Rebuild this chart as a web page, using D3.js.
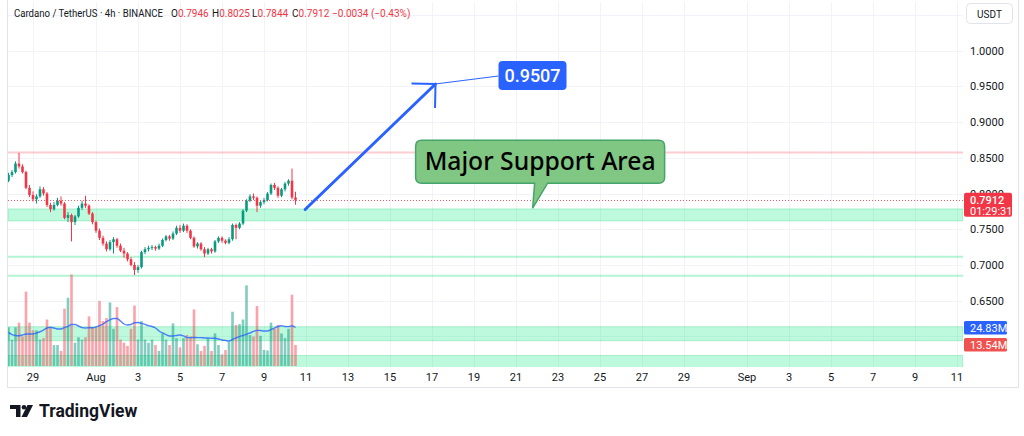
<!DOCTYPE html>
<html><head><meta charset="utf-8">
<script src="https://cdn.jsdelivr.net/npm/d3@7"></script>
<style>html,body{margin:0;padding:0;background:#fff;overflow:hidden}svg{display:block}</style>
</head><body>
<script>
// ---------- DATA ----------
const opens  = [.818,.826,.830,.842,.838,.830,.808,.798,.792,.796,.806,.800,.784,.778,.784,.790,.786,.766,.770,.760,.768,.780,.786,.783,.772,.760,.748,.738,.730,.722,.732,.736,.727,.720,.716,.708,.700,.693,.697,.718,.722,.724,.725,.723,.727,.735,.740,.737,.744,.752,.748,.755,.748,.738,.726,.730,.722,.716,.722,.719,.733,.738,.734,.731,.736,.756,.752,.758,.776,.790,.796,.794,.783,.788,.791,.800,.812,.808,.797,.806,.814,.818,.7946];
const highs  = [.829,.833,.845,.857,.841,.832,.812,.803,.799,.810,.809,.802,.787,.788,.794,.796,.788,.774,.772,.770,.783,.790,.797,.785,.774,.762,.751,.741,.733,.735,.739,.738,.730,.724,.718,.711,.704,.700,.720,.725,.727,.728,.727,.730,.737,.742,.742,.747,.755,.756,.758,.757,.750,.740,.732,.732,.725,.724,.724,.735,.740,.740,.736,.739,.758,.758,.760,.778,.792,.799,.800,.796,.790,.794,.802,.814,.815,.810,.808,.816,.820,.835,.8025];
const lows   = [.816,.823,.828,.835,.828,.806,.795,.789,.786,.794,.797,.781,.774,.776,.782,.783,.764,.760,.733,.756,.766,.777,.780,.770,.757,.745,.735,.727,.719,.720,.716,.724,.718,.710,.705,.698,.686,.689,.695,.715,.719,.721,.720,.721,.725,.733,.734,.735,.742,.745,.746,.745,.736,.724,.723,.720,.711,.714,.716,.717,.731,.731,.729,.729,.734,.736,.750,.756,.774,.788,.791,.774,.780,.785,.789,.798,.805,.794,.795,.803,.811,.792,.7844];
const closes = [.826,.830,.842,.838,.830,.808,.798,.792,.796,.806,.800,.784,.778,.784,.790,.786,.766,.770,.760,.768,.780,.786,.783,.772,.760,.748,.738,.730,.722,.732,.736,.727,.720,.716,.708,.700,.693,.697,.718,.722,.724,.725,.723,.727,.735,.740,.737,.744,.752,.748,.755,.748,.738,.726,.730,.722,.716,.722,.719,.733,.738,.734,.731,.736,.756,.752,.758,.776,.790,.796,.794,.783,.788,.791,.800,.812,.808,.797,.806,.814,.818,.7946,.7912];
// volume in millions
const volumes = [25,17,25,28,19,48,28,23,23,17,18,30,25,13.5,13.5,9.7,37,44,59,15,18.5,17,18.5,32,25,25,42,29,31,41,24,38,17,15,13,24,39,17,29,17,15,17,13.5,9.7,21,17,13.5,27.5,18,12,18,20,19,36.5,14,9.7,13,18,9.7,21,13.5,7.5,10.3,15.7,35,26.5,27,30,52,20,19,38.7,19.5,10.3,10,28,24,26.5,21,18,24,46,13.54];
const volumeMA = [21.7,20.3,19.7,19.5,20,20.6,20.6,20.6,21.3,22.1,23.2,24.5,25,24.5,23.9,23.9,24.8,25.5,26.8,26.8,25.8,24.8,24.5,24.7,24.7,25.2,26,27.1,28.6,29.7,30.6,30.6,29,27.1,26.5,26.8,27.9,28.1,27.5,26.8,26,25.5,24.5,22.6,21.3,20.3,19.4,19.4,19.7,20,19.4,18.3,18.3,18.4,18.3,18.3,18.1,18.1,17.9,17.9,17.4,16.8,16.5,16.1,17.1,18.1,19,19.7,20.5,21.3,22.3,23,22.9,22.6,22.6,23.5,24.5,25.5,26,25.5,25.4,26,24.83];
const firstCandle = Date.UTC(2025, 6, 27, 20); // Jul 27 20:00, 4h bars
const priceTicks = [0.65, 0.70, 0.75, 0.80, 0.85, 0.90, 0.95, 1.00];
const gridPrices = [0.60, 0.65, 0.70, 0.75, 0.80, 0.85, 0.90, 0.95, 1.00, 1.05];
const timeTickDates = ["2025-07-29","2025-08-01","2025-08-03","2025-08-05","2025-08-07","2025-08-09","2025-08-11","2025-08-13","2025-08-15","2025-08-17","2025-08-19","2025-08-21","2025-08-23","2025-08-25","2025-08-27","2025-08-29","2025-09-01","2025-09-03","2025-09-05","2025-09-07","2025-09-09","2025-09-11"];
const timeTickLabels = ["29","Aug","3","5","7","9","11","13","15","17","19","21","23","25","27","29","Sep","3","5","7","9","11"];
// drawn zones (price ranges) and lines
const zoneLow  = [0.7617, 0.5940, 0.5560];
const zoneHigh = [0.7785, 0.6136, 0.5733];
const supportLines = [0.7116, 0.6850];
const resistanceLine = 0.8575;
const lastPrice = 0.7912;
const arrowTimes  = ["2025-08-10T23:00Z", "2025-08-17T04:00Z"];
const arrowPrices = [0.7777, 0.9534];
const targetText = "0.9507";
const calloutText = "Major Support Area";
const calloutTipTime = "2025-08-21T19:00Z";
const calloutTipPrice = 0.7795;

// ---------- LAYOUT ----------
const W = 1024, H = 436;
const paneL = 8, paneR = 963, paneT = 2, paneB = 367;
const svg = d3.select("body").append("svg").attr("width", W).attr("height", H)
  .style("font-family", "Roboto, 'Noto Sans', Arial, sans-serif");

const x = d3.scaleUtc().domain([new Date(Date.UTC(2025,6,29)), new Date(Date.UTC(2025,8,11))]).range([33, 957]);
const y = d3.scaleLinear().domain([0.65, 1.0]).range([300.7, 50.7]);
const yv = d3.scaleLinear().domain([0, 60]).range([366, 273]);

const times = closes.map((_, i) => new Date(firstCandle + i * 4 * 3600e3));

// frame (left, bottom, right)
svg.append("path").attr("d", "M7.5,0 V387.5 H1018.5 V0").attr("fill", "none").attr("stroke", "#e0e3eb");

const defs = svg.append("defs");
defs.append("clipPath").attr("id", "pane").append("rect")
  .attr("x", paneL).attr("y", paneT).attr("width", paneR - paneL).attr("height", paneB - paneT);
const pane = svg.append("g").attr("clip-path", "url(#pane)");

// grid
pane.append("g").selectAll("line").data(gridPrices).join("line")
  .attr("x1", paneL).attr("x2", paneR)
  .attr("y1", d => Math.round(y(d)) + 0.5).attr("y2", d => Math.round(y(d)) + 0.5)
  .attr("stroke", "#f0f3fa").attr("stroke-width", 1);
pane.append("g").selectAll("line").data(timeTickDates).join("line")
  .attr("y1", paneT).attr("y2", paneB)
  .attr("x1", d => Math.round(x(new Date(d + "T00:00Z"))) + 0.5)
  .attr("x2", d => Math.round(x(new Date(d + "T00:00Z"))) + 0.5)
  .attr("stroke", "#f0f3fa").attr("stroke-width", 1);

// zones
pane.append("g").selectAll("rect").data(zoneLow).join("rect")
  .attr("x", paneL).attr("width", paneR - paneL)
  .attr("y", (d, i) => y(zoneHigh[i])).attr("height", (d, i) => y(zoneLow[i]) - y(zoneHigh[i]))
  .attr("fill", "rgba(0,230,118,0.26)").attr("stroke", "rgba(0,200,100,0.25)").attr("stroke-width", 1);
pane.append("g").selectAll("line").data(supportLines).join("line")
  .attr("x1", paneL).attr("x2", paneR).attr("y1", d => y(d)).attr("y2", d => y(d))
  .attr("stroke", "rgba(0,220,110,0.3)").attr("stroke-width", 2);
pane.append("line").attr("x1", paneL).attr("x2", paneR)
  .attr("y1", y(resistanceLine)).attr("y2", y(resistanceLine))
  .attr("stroke", "rgba(242,54,69,0.25)").attr("stroke-width", 2);

// volume
const bw = 2.6;
pane.append("g").selectAll("rect").data(volumes).join("rect")
  .attr("x", (d, i) => x(times[i]) - bw / 2).attr("width", bw)
  .attr("y", d => yv(d)).attr("height", d => yv(0) - yv(d))
  .attr("fill", (d, i) => closes[i] >= opens[i] ? "rgba(8,153,129,0.5)" : "rgba(242,54,69,0.45)");
pane.append("path").datum(volumeMA)
  .attr("d", d3.line().x((d, i) => x(times[i])).y(d => yv(d)).curve(d3.curveMonotoneX))
  .attr("fill", "none").attr("stroke", "rgba(41,98,255,0.8)").attr("stroke-width", 1.4);

// candles
const cg = pane.append("g");
cg.selectAll("line").data(closes).join("line")
  .attr("x1", (d, i) => x(times[i])).attr("x2", (d, i) => x(times[i]))
  .attr("y1", (d, i) => y(highs[i])).attr("y2", (d, i) => y(lows[i]))
  .attr("stroke", (d, i) => d >= opens[i] ? "#089981" : "#F23645").attr("stroke-width", 1);
cg.selectAll("rect").data(closes).join("rect")
  .attr("x", (d, i) => x(times[i]) - bw / 2).attr("width", bw)
  .attr("y", (d, i) => y(Math.max(d, opens[i])))
  .attr("height", (d, i) => Math.max(1, Math.abs(y(d) - y(opens[i]))))
  .attr("fill", (d, i) => d >= opens[i] ? "#089981" : "#F23645");

// last price dotted line
pane.append("line").attr("x1", paneL).attr("x2", paneR)
  .attr("y1", Math.round(y(lastPrice)) + 0.5).attr("y2", Math.round(y(lastPrice)) + 0.5)
  .attr("stroke", "#F23645").attr("stroke-width", 1).attr("stroke-dasharray", "1,2").attr("opacity", 0.8);

// arrow
const ax0 = x(new Date(arrowTimes[0])), ay0 = y(arrowPrices[0]);
const ax1 = x(new Date(arrowTimes[1])), ay1 = y(arrowPrices[1]);
pane.append("line").attr("x1", ax0).attr("y1", ay0).attr("x2", ax1).attr("y2", ay1)
  .attr("stroke", "#2962FF").attr("stroke-width", 3).attr("stroke-linecap", "round");
const ang = Math.atan2(ay0 - ay1, ax0 - ax1);
[Math.PI / 4, -Math.PI / 4].forEach(a => {
  pane.append("line").attr("x1", ax1).attr("y1", ay1)
    .attr("x2", ax1 + 24 * Math.cos(ang + a)).attr("y2", ay1 + 24 * Math.sin(ang + a))
    .attr("stroke", "#2962FF").attr("stroke-width", 2);
});
// target label
const bx = ax1 + 63, by = ay1 - 23;
pane.append("line").attr("x1", ax1).attr("y1", ay1).attr("x2", bx).attr("y2", by + 15)
  .attr("stroke", "#2962FF").attr("stroke-width", 1);
pane.append("rect").attr("x", bx).attr("y", by).attr("width", 68).attr("height", 29).attr("rx", 4)
  .attr("fill", "#2962FF");
pane.append("text").attr("x", bx + 34).attr("y", by + 21).attr("text-anchor", "middle")
  .attr("fill", "#fff").attr("font-size", 18).attr("font-weight", 500).text(targetText);

// callout
const tipX = x(new Date(calloutTipTime)), tipY = y(calloutTipPrice);
const c0 = tipX - 117, c1 = tipX + 132, ct = tipY - 68, cb = tipY - 25, r = 6;
const tl = tipX + 2, tr = tipX + 15;
const cp = `M${c0 + r},${ct} H${c1 - r} Q${c1},${ct} ${c1},${ct + r} V${cb - r} Q${c1},${cb} ${c1 - r},${cb} H${tr} L${tipX},${tipY} L${tl},${cb} H${c0 + r} Q${c0},${cb} ${c0},${cb - r} V${ct + r} Q${c0},${ct} ${c0 + r},${ct} Z`;
pane.append("path").attr("d", cp).attr("fill", "#81C784").attr("stroke", "#45a46a").attr("stroke-width", 1.5);
pane.append("text").attr("x", (c0 + c1) / 2).attr("y", ct + 30).attr("text-anchor", "middle")
  .attr("font-size", 25).attr("font-weight", 500).attr("fill", "#000")
  .attr("font-family", "'Noto Sans', sans-serif")
  .attr("textLength", 231).attr("lengthAdjust", "spacingAndGlyphs").text(calloutText);

// ---------- AXES ----------
svg.append("g").selectAll("text").data(priceTicks).join("text")
  .attr("x", 970).attr("y", d => y(d) + 4).attr("font-size", 11).attr("fill", "#131722")
  .text(d => d.toFixed(4));
svg.append("g").selectAll("text").data(timeTickDates).join("text")
  .attr("x", d => x(new Date(d + "T00:00Z"))).attr("y", 381).attr("text-anchor", "middle")
  .attr("font-size", 11).attr("fill", "#131722").text((d, i) => timeTickLabels[i]);

// USDT
svg.append("rect").attr("x", 966.5).attr("y", 3.5).attr("width", 46).attr("height", 20).attr("rx", 4)
  .attr("fill", "#fff").attr("stroke", "#e0e3eb");
svg.append("text").attr("x", 989.5).attr("y", 17.5).attr("text-anchor", "middle")
  .attr("font-size", 10).attr("fill", "#131722").text("USDT");

// last price label
const ly = y(lastPrice);
svg.append("rect").attr("x", 964).attr("y", ly - 7).attr("width", 48).attr("height", 24).attr("rx", 2).attr("fill", "#F23645");
svg.append("text").attr("x", 970).attr("y", ly + 4).attr("font-size", 11).attr("font-weight", 500).attr("fill", "#fff").text(lastPrice.toFixed(4));
svg.append("text").attr("x", 970).attr("y", ly + 15).attr("font-size", 11).attr("fill", "#fff").text("01:29:31");

// volume labels
const maLast = volumeMA[volumeMA.length - 1], vLast = volumes[volumes.length - 1];
svg.append("rect").attr("x", 964).attr("y", yv(maLast) - 6.5).attr("width", 43).attr("height", 13.5).attr("rx", 1.5).attr("fill", "#2962FF");
svg.append("text").attr("x", 970).attr("y", yv(maLast) + 4).attr("font-size", 11).attr("fill", "#fff").text(maLast.toFixed(2) + "M");
svg.append("rect").attr("x", 964).attr("y", yv(vLast) - 7).attr("width", 43).attr("height", 13.5).attr("rx", 1.5).attr("fill", "#EF5350");
svg.append("text").attr("x", 970).attr("y", yv(vLast) + 3.5).attr("font-size", 11).attr("fill", "#fff").text(vLast.toFixed(2) + "M");

// ---------- HEADER ----------
const hdr = svg.append("text").attr("y", 16.5).attr("font-size", 10).attr("fill", "#131722");
hdr.append("tspan").attr("x", 14).attr("textLength", 149).attr("lengthAdjust", "spacingAndGlyphs")
  .text("Cardano / TetherUS · 4h · BINANCE");
const last = closes.length - 1;
const ohlc = [["O", opens[last], 171], ["H", highs[last], 212], ["L", lows[last], 252], ["C", closes[last], 292]];
ohlc.forEach(([k, v, px]) => {
  hdr.append("tspan").attr("x", px).text(k);
  hdr.append("tspan").attr("fill", "#F23645").text(v.toFixed(4));
});
const chg = closes[last] - opens[last];
hdr.append("tspan").attr("x", 332).attr("fill", "#F23645")
  .text("−" + Math.abs(chg).toFixed(4) + " (−" + Math.abs(chg / opens[last] * 100).toFixed(2) + "%)");

// ---------- LOGO ----------
const logo = svg.append("g").attr("fill", "#131722");
logo.append("path").attr("d", "M10,405 H20.5 V417 H16 V409 H10 Z");
logo.append("circle").attr("cx", 24).attr("cy", 407.3).attr("r", 2.3);
logo.append("path").attr("d", "M27.5,405 H33 L27,417 H21.5 Z");
svg.append("text").attr("x", 39).attr("y", 417).attr("font-size", 17.5).attr("font-weight", 700)
  .attr("fill", "#131722").text("TradingView");
</script>
</body></html>
